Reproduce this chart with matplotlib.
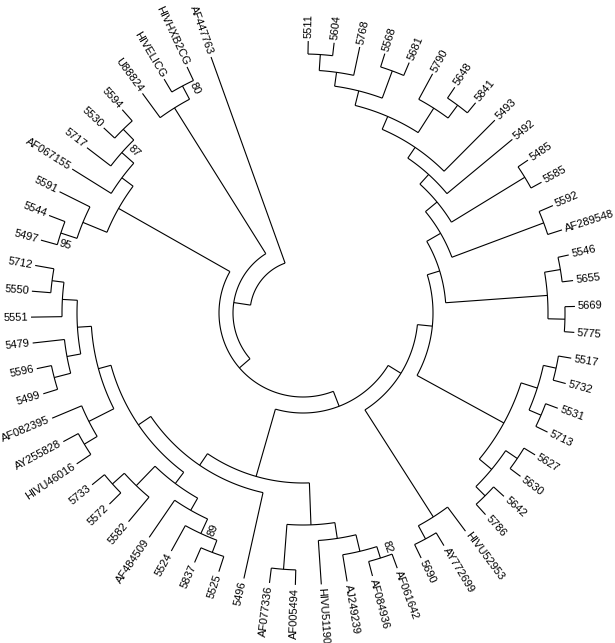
import numpy as np
import matplotlib
matplotlib.use("Agg")
import matplotlib.pyplot as plt

plt.rcParams['font.family'] = ['Liberation Sans', 'DejaVu Sans']

# leaves in clockwise order, starting at the top
leaves = ["5511", "5604", "5768", "5568", "5681", "5790", "5648", "5841",
          "5493", "5492", "5485", "5585", "5592", "AF289548", "5546", "5655",
          "5669", "5775", "5517", "5732", "5531", "5713", "5627", "5630",
          "5642", "5786", "HIVU52953", "AY772699", "5690", "AF061642",
          "AF084936", "AJ249239", "HIVU51190", "AF005494", "AF077336", "5496",
          "5525", "5837", "5524", "AF484509", "5582", "5572", "5733",
          "HIVU46016", "AY255828", "AF082395", "5499", "5596", "5479", "5551",
          "5550", "5712", "5497", "5544", "5591", "AF067155", "5717", "5530",
          "5594", "U88824", "HIVELICG", "HIVHXB2CG", "AF447763"]

# internal nodes (children first), their two children and height above the tips
node_names = ["a1", "a2", "a3", "a4", "a5", "a6", "a7", "a8", "a9", "a10",
              "a11", "a12", "a13", "b1", "b2", "b3", "a14",
              "q1", "q2", "q3", "r1", "r2", "r3", "p", "c1",
              "m1", "m2", "c2",
              "l1", "l2", "l3", "l4", "l5",
              "j1", "j2", "j3", "j4", "nj", "k1", "nk", "nh",
              "i1", "i2", "i3", "i4", "i5", "ni", "ng", "nf", "ne", "nd",
              "s1", "s2", "s3", "s4", "s5", "ns", "nc",
              "u1", "u2", "nb", "root"]
node_children = [("5511", "5604"), ("a1", "5768"), ("5568", "5681"), ("a2", "a3"),
                 ("5648", "5841"), ("5790", "a5"), ("a4", "a6"), ("a7", "5493"),
                 ("a8", "5492"), ("5485", "5585"), ("a9", "a10"),
                 ("5592", "AF289548"), ("a11", "a12"), ("5546", "5655"),
                 ("5669", "5775"), ("b1", "b2"), ("a13", "b3"),
                 ("5517", "5732"), ("5531", "5713"), ("q1", "q2"),
                 ("5627", "5630"), ("5642", "5786"), ("r1", "r2"), ("q3", "r3"),
                 ("a14", "p"),
                 ("AY772699", "5690"), ("HIVU52953", "m1"), ("c1", "m2"),
                 ("AF077336", "AF005494"), ("AF084936", "AF061642"),
                 ("AJ249239", "l2"), ("HIVU51190", "l3"), ("l1", "l4"),
                 ("5712", "5550"), ("j1", "5551"), ("5596", "5499"),
                 ("5479", "j3"), ("j2", "j4"), ("AY255828", "HIVU46016"),
                 ("AF082395", "k1"), ("nj", "nk"),
                 ("5733", "5572"), ("i1", "5582"), ("5837", "5525"),
                 ("5524", "i3"), ("AF484509", "i4"), ("i2", "i5"), ("nh", "ni"),
                 ("ng", "5496"), ("nf", "l5"), ("c2", "ne"),
                 ("5544", "5497"), ("5591", "s1"), ("5594", "5530"),
                 ("5717", "s3"), ("AF067155", "s4"), ("s2", "s5"), ("ns", "nd"),
                 ("HIVELICG", "HIVHXB2CG"), ("U88824", "u1"), ("nc", "u2"),
                 ("nb", "AF447763")]
node_heights = [13, 29, 14, 43, 13, 29, 58, 72, 85, 12,
                98, 15, 113, 11, 10, 27, 129,
                13, 13, 26, 13, 14, 27, 43, 142,
                15, 30, 157,
                15, 15, 27, 44, 60,
                19, 31, 15, 32, 46, 17, 32, 60,
                16, 32, 16, 29, 45, 59, 73, 88, 102, 172,
                17, 34, 15, 30, 46, 60, 188,
                15, 30, 202, 219]

bootstrap_nodes = ["u1", "s4", "s1", "i4", "l2"]
bootstrap_values = ["80", "87", "95", "89", "82"]
bootstrap_side = [-1, -1, 1, 1, 1]

# layout
W, H = 615, 643
cx, cy = 303, 313
tip_r = 272.0
start_deg, step_deg = 88.9, 5.47

ang = {}
rad = {}
for i, name in enumerate(leaves):
    ang[name] = np.radians(start_deg - i * step_deg)
    rad[name] = tip_r
for name, kids, h in zip(node_names, node_children, node_heights):
    a = [ang[k] for k in kids]
    ang[name] = 0.5 * (min(a) + max(a))
    rad[name] = tip_r - h

fig = plt.figure(figsize=(W / 100, H / 100), dpi=100)
ax = fig.add_axes([0, 0, 1, 1])
ax.set_xlim(-cx, W - cx)
ax.set_ylim(-(H - cy), cy)
ax.set_aspect('equal')
ax.axis('off')

lw = 0.8
for name, kids in zip(node_names, node_children):
    r0 = rad[name]
    a = [ang[k] for k in kids]
    t = np.linspace(min(a), max(a), 80)
    ax.plot(r0 * np.cos(t), r0 * np.sin(t), color='black', lw=lw,
            solid_capstyle='butt')
    for k in kids:
        th = ang[k]
        ax.plot([r0 * np.cos(th), rad[k] * np.cos(th)],
                [r0 * np.sin(th), rad[k] * np.sin(th)], color='black', lw=lw,
                solid_capstyle='butt')

for name in leaves:
    th = ang[name]
    deg = np.degrees(th) % 360
    rr = tip_r + 3
    if 90 < deg < 270:
        rot, ha = deg - 180, 'right'
    else:
        rot, ha = deg, 'left'
    ax.text(rr * np.cos(th), rr * np.sin(th), name, rotation=rot, ha=ha,
            va='center', rotation_mode='anchor', fontsize=8)

for node, val, side in zip(bootstrap_nodes, bootstrap_values, bootstrap_side):
    th = ang[node] + np.radians(2.3 * side)
    rr = rad[node] - 8
    deg = np.degrees(th) % 360
    rot = deg - 180 if 90 < deg < 270 else deg
    ax.text(rr * np.cos(th), rr * np.sin(th), val, rotation=rot, ha='center',
            va='center', rotation_mode='anchor', fontsize=8)

fig.savefig("out.png", dpi=100, facecolor='white')
